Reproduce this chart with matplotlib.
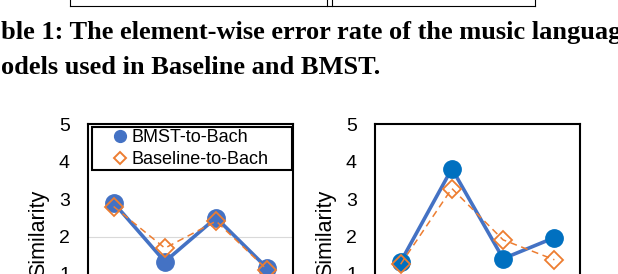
import matplotlib
matplotlib.use("Agg")
import matplotlib.pyplot as plt
from matplotlib.lines import Line2D
from matplotlib.patches import Rectangle
import numpy as np

# values (x axis labels are cut off in the reference)
groups = [0, 1, 2, 3]
bmst_left = [2.90, 1.33, 2.50, 1.15]
base_left = [2.80, 1.69, 2.41, 1.11]
bmst_right = [1.32, 3.81, 1.41, 1.97]
base_right = [1.26, 3.28, 1.91, 1.38]
yticks = [1, 2, 3, 4, 5]
legend_labels = ["BMST-to-Bach", "Baseline-to-Bach"]

caption = ["ble 1: The element-wise error rate of the music languag",
           "odels used in Baseline and BMST."]

W, H = 618, 274
BLUE = "#4472C4"
BLUE_DARK = "#0070C0"
ORANGE = "#ED7D31"

plt.rcParams["font.family"] = ["Liberation Sans", "DejaVu Sans"]

fig = plt.figure(figsize=(W / 100, H / 100), dpi=100)


def px(x, y):
    return x / W, 1 - y / H


# bottom edge of the table above the caption
tbl = fig.add_axes([0, 0, 1, 1], zorder=-1)
tbl.set_xlim(0, W)
tbl.set_ylim(H, 0)
tbl.axis("off")
tbl.plot([70, 535], [6, 6], color="black", lw=0.8)
for xv in [70, 327, 332, 535]:
    tbl.plot([xv, xv], [0, 6], color="black", lw=0.8)

# caption
for i, line in enumerate(caption):
    fig.text(*px(1, 39 + 35 * i), line, family="Liberation Serif",
             weight="bold", fontsize=19, va="baseline", ha="left")


def make_panel(x0, bmst, base, face, grid2, legend):
    y_top, y_zero = 124, 311.5
    ax = fig.add_axes([x0 / W, 1 - y_zero / H, 205 / W, (y_zero - y_top) / H])
    ax.set_xlim(-0.5, 3.5)
    ax.set_ylim(0, 5)
    ax.set_yticks(yticks)
    ax.set_xticks([])
    ax.tick_params(axis="y", length=0, pad=13, labelsize=14)
    for s in ax.spines.values():
        s.set_linewidth(1.5)
        s.set_color("black")
    if grid2:
        ax.axhline(2, color="#d9d9d9", lw=0.8, zorder=1)
    ax.plot(groups, bmst, color=BLUE, lw=2.6, marker="o", markersize=12.5,
            markerfacecolor=face, markeredgecolor=face, zorder=3)
    ln, = ax.plot(groups, base, color=ORANGE, lw=1.1, marker="D",
                  markersize=9.5, markerfacecolor="none",
                  markeredgecolor=ORANGE, markeredgewidth=1.3, zorder=4)
    ln.set_dashes([4.5, 3])
    fig.text(*px(x0 - 49, 190), "Similarity", rotation=90, fontsize=15.5,
             ha="center", va="top")
    if legend:
        fx = lambda v: (v - x0) / 205
        fy = lambda v: (y_zero - v) / (y_zero - y_top)
        ax.add_patch(Rectangle((fx(92), fy(170)), fx(292) - fx(92),
                               fy(127) - fy(170), transform=ax.transAxes,
                               facecolor="white", edgecolor="black",
                               lw=1.5, zorder=5, clip_on=False))
        handles = [
            Line2D([], [], ls="none", marker="o", markersize=8.5,
                   color=BLUE, markeredgecolor=BLUE),
            Line2D([], [], ls="none", marker="D", markersize=6.5,
                   markerfacecolor="none", markeredgecolor=ORANGE,
                   markeredgewidth=1.4),
        ]
        lg = ax.legend(handles, legend_labels, loc="upper left",
                       bbox_to_anchor=(fx(112), fy(129)), frameon=False,
                       borderpad=0, borderaxespad=0, handlelength=0.9,
                       handletextpad=0.2, labelspacing=0.3, fontsize=13)
        lg.set_zorder(6)
    return ax


make_panel(88, bmst_left, base_left, BLUE, True, True)
make_panel(375, bmst_right, base_right, BLUE_DARK, False, False)

fig.savefig("out.png", dpi=100)
